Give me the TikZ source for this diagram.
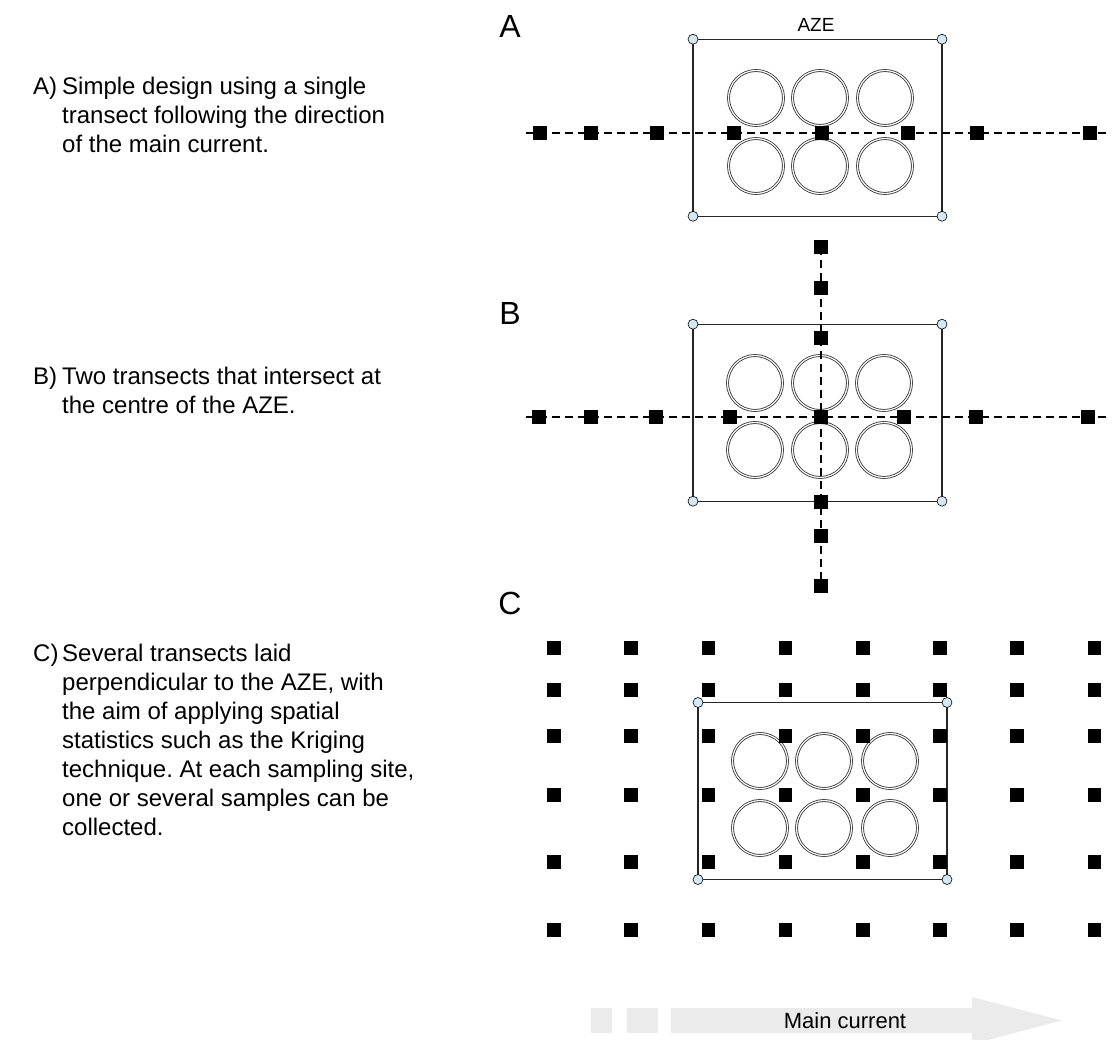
\documentclass[tikz,border=0pt]{standalone}
\usepackage{fontspec}
\setmainfont{Liberation Sans}
\definecolor{cornerblue}{HTML}{D4E8F4}
\definecolor{arrowgray}{HTML}{EBEBEB}
\definecolor{wellgray}{HTML}{303030}
\frenchspacing
\newcommand{\desclines}[1]{\begin{tabular}[t]{@{}l@{}}#1\end{tabular}}
\begin{document}
\begin{tikzpicture}[x=1pt,y=-1pt,
  sq/.style={fill=black,draw=none,minimum size=13.5pt,inner sep=0pt,outer sep=0pt},
  azebox/.style={draw=black!85,line width=1.2pt,minimum width=249pt,minimum height=177pt,inner sep=0pt,outer sep=0pt},
  well/.style={circle,draw=wellgray,double=white,double distance=1.2pt,line width=0.8pt,minimum size=55pt,inner sep=0pt},
  corner/.style={circle,draw=black,fill=cornerblue,minimum size=10pt,inner sep=0pt,line width=0.6pt},
  transect/.style={line width=1.4pt,dash pattern=on 8pt off 5pt},
  panel/.style={font=\fontsize{32}{32}\selectfont,inner sep=0pt},
  desc/.style={font=\fontsize{24}{29}\selectfont,anchor=base west,inner sep=0pt},
  arrowtxt/.style={font=\fontsize{22}{22}\selectfont,inner sep=0pt},
]
\useasboundingbox (0,0) rectangle (1114,1040);

% ---------------- left descriptions ----------------
\node[desc] (tA) at (33,95) {A)};
\node[desc] (dA) at (62,95) {\desclines{Simple design using a single\\transect following the direction\\of the main current.}};
\node[desc] (tB) at (33,385) {B)};
\node[desc] (dB) at (62,385) {\desclines{Two transects that intersect at\\the centre of the AZE.}};
\node[desc] (tC) at (33,661) {C)};
\node[desc] (dC) at (62,661) {\desclines{Several transects laid\\perpendicular to the AZE, with\\the aim of applying spatial\\statistics such as the Kriging\\technique. At each sampling site,\\one or several samples can be\\collected.}};

% ---------------- panel labels ----------------
\node[panel] (lA) at (510,26) {A};
\node[panel] (lB) at (510,313) {B};
\node[panel] (lC) at (510,603) {C};

% ================= Panel A =================
\node[azebox] (boxA) at (817.5,127.75) {};
\node[font=\fontsize{19}{19}\selectfont,inner sep=0pt] (azeA) at (816,24.5) {AZE};
\foreach \x [count=\i] in {756,820,885}{
  \node[well] (wA-\i-1) at (\x,98) {};
  \node[well] (wA-\i-2) at (\x,166) {};
}
\coordinate (aL) at (526,133);
\coordinate (aR) at (1110,133);
\foreach \x [count=\i] in {540,591,657,734,822,908,977,1090}{
  \node[sq] (sA-\i) at (\x,133) {};
}
\draw[transect] (aL) -- (aR);
\foreach \a in {north west,north east,south west,south east}{
  \node[corner] at (boxA.\a) {};
}

% ================= Panel B =================
\node[azebox] (boxB) at (817.5,412.7) {};
\foreach \x [count=\i] in {755,820,884}{
  \node[well] (wB-\i-1) at (\x,383) {};
  \node[well] (wB-\i-2) at (\x,450) {};
}
\coordinate (bL) at (526,417);
\coordinate (bR) at (1110,417);
\foreach \x [count=\i] in {539,591,656,730,821,904,976,1088}{
  \node[sq] (sBh-\i) at (\x,417) {};
}
\foreach \y [count=\i] in {247,288,338,502,536,586}{
  \node[sq] (sBv-\i) at (821,\y) {};
}
\draw[transect] (bL) -- (bR);
\draw[transect] (sBv-1.center) -- (sBv-6.center);
\foreach \a in {north west,north east,south west,south east}{
  \node[corner] at (boxB.\a) {};
}

% ================= Panel C =================
\node[azebox] (boxC) at (822.5,791) {};
\foreach \x [count=\i] in {760,824,890}{
  \node[well] (wC-\i-1) at (\x,761) {};
  \node[well] (wC-\i-2) at (\x,828) {};
}
\foreach \y [count=\j] in {648,690,736,795,862,930}{
  \foreach \x [count=\i] in {554,631.2,708.4,785.6,862.8,940,1017.2,1094.4}{
    \node[sq] (g-\i-\j) at (\x,\y) {};
  }
}
\foreach \a in {north west,north east,south west,south east}{
  \node[corner] at (boxC.\a) {};
}

% ================= Main current arrow =================
\fill[arrowgray] (591,1008) rectangle (611.7,1033);
\fill[arrowgray] (627.3,1008) rectangle (657.7,1033);
\fill[arrowgray] (671,1008) -- (972,1008) -- (972,997) -- (1062,1020.5) -- (972,1044) -- (972,1033) -- (671,1033) -- cycle;
\node[arrowtxt] (mc) at (845,1021) {Main current};
\end{tikzpicture}
\end{document}
